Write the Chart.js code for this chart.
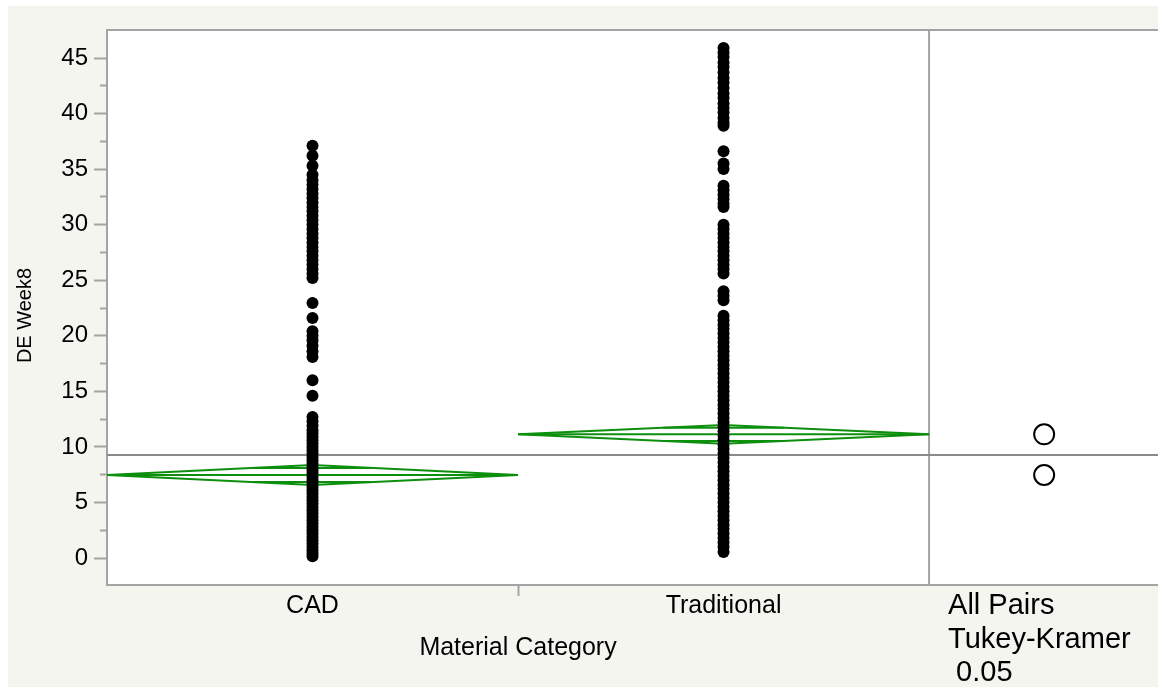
<!DOCTYPE html>
<html>
<head>
<meta charset="utf-8">
<script src="https://cdn.jsdelivr.net/npm/chart.js@4/dist/chart.umd.min.js"></script>
<style>
  html, body { margin: 0; padding: 0; background: #ffffff; }
  #wrap { position: absolute; left: 8px; top: 6px; width: 1150px; height: 681px; background: #f5f5f0; }
  canvas { display: block; }
</style>
</head>
<body>
<div id="wrap"><canvas id="c" width="1150" height="681"></canvas></div>
<script>
// ---------------- data ----------------
const categories = ['CAD', 'Traditional'];

const cadValues = [
  0.15, 0.4, 0.7, 1.0, 1.3, 1.6, 1.9, 2.2, 2.5, 2.8, 3.1, 3.4, 3.7, 4.0, 4.3, 4.6, 4.9,
  5.2, 5.5, 5.8, 6.1, 6.4, 6.7, 7.0, 7.3, 7.6, 7.9, 8.2, 8.5, 8.8, 9.1, 9.4, 9.7, 10.0,
  10.3, 10.6, 10.9, 11.2, 11.5, 11.9, 12.3, 12.7,
  14.6, 16.0,
  18.1, 18.6, 19.1, 19.6, 20.0, 20.4, 21.6, 22.95,
  25.2, 25.6, 26.0, 26.4, 26.8, 27.2, 27.6, 28.0, 28.4, 28.8, 29.2, 29.6, 30.0, 30.4,
  30.8, 31.2, 31.6, 32.0, 32.4, 32.8, 33.2, 33.6, 34.0, 34.5, 35.3, 36.2, 37.1
];

const tradValues = [
  0.55, 1.0, 1.4, 1.8, 2.2, 2.6, 3.0, 3.4, 3.8, 4.2, 4.6, 5.0, 5.4, 5.8, 6.2, 6.6, 7.0,
  7.4, 7.8, 8.2, 8.6, 9.0, 9.4, 9.8, 10.2, 10.6, 11.0, 11.4, 11.8, 12.2, 12.6, 13.0, 13.4,
  13.8, 14.2, 14.6, 15.0, 15.4, 15.8, 16.2, 16.6, 17.0, 17.4, 17.8, 18.2, 18.6, 19.0, 19.4,
  19.8, 20.2, 20.6, 21.0, 21.4, 21.8,
  23.2, 23.6, 24.0,
  25.6, 26.0, 26.4, 26.8, 27.2, 27.6, 28.0, 28.4, 28.8, 29.2, 29.6, 30.0,
  31.6, 31.9, 32.3, 32.7, 33.1, 33.5,
  35.0, 35.5, 36.6,
  38.9, 39.2, 39.6, 40.1, 40.5, 40.9, 41.4, 41.8, 42.3, 42.8, 43.2, 43.7, 44.2, 44.6,
  45.1, 45.5, 45.9
];

const groupMeans   = [7.47, 11.13];
const ciUpper      = [8.37, 11.98];
const ciLower      = [6.57, 10.28];
const overlapUpper = [8.11, 11.73];
const overlapLower = [6.83, 10.53];
const grandMean = 9.27;

const yTickValues = [0, 2.5, 5, 7.5, 10, 12.5, 15, 17.5, 20, 22.5, 25, 27.5, 30, 32.5, 35, 37.5, 40, 42.5, 45];
const yMin = -2.43, yMax = 47.52;
const xMin = 0, xMax = 2.557;
const xTickValues = [0.5, 1, 1.5];
const testLabelLines = ['All Pairs', 'Tukey-Kramer', ' 0.05'];
const yTitle = 'DE Week8';
const xTitle = 'Material Category';

// ---------------- styles ----------------
const GREEN = '#0c8f0c';
const AXIS = '#a3a3a3';
const FONT = "'Liberation Sans', Arial, Helvetica, sans-serif";
const circleX = 2.28;
Chart.defaults.font.family = FONT;
Chart.defaults.color = '#000000';

// ---------------- datasets ----------------
const datasets = [];
const pointSets = [cadValues, tradValues];
pointSets.forEach((vals, i) => {
  datasets.push({
    label: categories[i],
    data: vals.map(v => ({ x: i + 0.5, y: v })),
    pointRadius: 6, pointHoverRadius: 6,
    pointBackgroundColor: '#000000', pointBorderColor: '#000000', pointBorderWidth: 0,
    showLine: false, order: 0
  });
});
// comparison circles
datasets.push({
  label: 'circles',
  data: groupMeans.map(m => ({ x: circleX, y: m })),
  pointRadius: 10, pointBackgroundColor: 'rgba(0,0,0,0)', pointBorderColor: '#000000',
  pointBorderWidth: 2, showLine: false, order: 0
});
// means diamonds
categories.forEach((c, i) => {
  const lineStyle = { borderColor: GREEN, borderWidth: 2, pointRadius: 0, showLine: true, fill: false, order: 1, tension: 0 };
  datasets.push(Object.assign({ label: c + ' diamond', data: [
    { x: i, y: groupMeans[i] }, { x: i + 0.5, y: ciUpper[i] }, { x: i + 1, y: groupMeans[i] },
    { x: i + 0.5, y: ciLower[i] }, { x: i, y: groupMeans[i] }
  ] }, lineStyle));
  datasets.push(Object.assign({ label: c + ' mean', data: [
    { x: i, y: groupMeans[i] }, { x: i + 1, y: groupMeans[i] }
  ] }, lineStyle));
  const halfU = 0.5 * (1 - (overlapUpper[i] - groupMeans[i]) / (ciUpper[i] - groupMeans[i]));
  const halfL = 0.5 * (1 - (groupMeans[i] - overlapLower[i]) / (groupMeans[i] - ciLower[i]));
  datasets.push(Object.assign({ label: c + ' overlap hi', data: [
    { x: i + 0.5 - halfU, y: overlapUpper[i] }, { x: i + 0.5 + halfU, y: overlapUpper[i] }
  ] }, lineStyle));
  datasets.push(Object.assign({ label: c + ' overlap lo', data: [
    { x: i + 0.5 - halfL, y: overlapLower[i] }, { x: i + 0.5 + halfL, y: overlapLower[i] }
  ] }, lineStyle));
});
// grand mean line
datasets.push({
  label: 'grand mean', data: [{ x: xMin, y: grandMean }, { x: xMax, y: grandMean }],
  borderColor: '#8a8a8a', borderWidth: 2, pointRadius: 0, showLine: true, order: 2
});
// separator between plot and comparison-circle panel
datasets.push({
  label: 'separator', data: [{ x: categories.length, y: yMin }, { x: categories.length, y: yMax }],
  borderColor: AXIS, borderWidth: 2, pointRadius: 0, showLine: true, order: 3
});

// ---------------- plugins ----------------
const framePlugin = {
  id: 'frame',
  beforeDraw(chart) {
    const { ctx, chartArea: a } = chart;
    ctx.save();
    ctx.fillStyle = '#ffffff';
    ctx.fillRect(a.left, a.top, a.right - a.left, a.bottom - a.top);
    ctx.restore();
  },
  afterDraw(chart) {
    const { ctx, chartArea: a, scales } = chart;
    ctx.save();
    ctx.strokeStyle = AXIS; ctx.lineWidth = 2;
    ctx.beginPath(); ctx.moveTo(a.left - 1, a.top); ctx.lineTo(a.right, a.top); ctx.stroke();
    ctx.fillStyle = '#000000';
    // x-axis title, centred under the category region
    ctx.font = "25px " + FONT;
    ctx.textAlign = 'center'; ctx.textBaseline = 'middle';
    ctx.fillText(xTitle, scales.x.getPixelForValue(categories.length / 2), a.bottom + 63);
    // y-axis title
    ctx.save();
    ctx.translate(17, (a.top + a.bottom) / 2 + 8);
    ctx.rotate(-Math.PI / 2);
    ctx.font = "20px " + FONT;
    ctx.fillText(yTitle, 0, 0);
    ctx.restore();
    // test label under the comparison circles panel
    ctx.font = "29px " + FONT;
    ctx.textAlign = 'left';
    const x0 = scales.x.getPixelForValue(categories.length) + 19;
    testLabelLines.forEach((t, k) => ctx.fillText(t, x0, a.bottom + 21 + k * 33.5));
    ctx.restore();
  }
};

new Chart(document.getElementById('c'), {
  type: 'scatter',
  data: { datasets },
  plugins: [framePlugin],
  options: {
    responsive: false, animation: false,
    layout: { autoPadding: false, padding: { top: 24, left: 0, right: 0, bottom: 0 } },
    plugins: { legend: { display: false }, tooltip: { enabled: false } },
    scales: {
      x: {
        type: 'linear', min: xMin, max: xMax,
        afterBuildTicks: s => { s.ticks = xTickValues.map(v => ({ value: v })); },
        afterFit: s => { s.height = 102; s.paddingLeft = 0; s.paddingRight = 0; },
        ticks: {
          autoSkip: false, maxRotation: 0, padding: -5,
          font: { size: 25 },
          callback: v => (v % 1 === 0.5 ? categories[Math.floor(v)] : '')
        },
        grid: {
          drawOnChartArea: false, tickLength: 11, tickWidth: 2,
          tickColor: ctx => (ctx.tick && ctx.tick.value % 1 === 0 ? AXIS : 'rgba(0,0,0,0)')
        },
        border: { color: AXIS, width: 2 }
      },
      y: {
        type: 'linear', min: yMin, max: yMax,
        afterBuildTicks: s => { s.ticks = yTickValues.map(v => ({ value: v })); },
        afterFit: s => { s.width = 99; s.paddingTop = 0; s.paddingBottom = 0; },
        ticks: {
          autoSkip: false, padding: 6, font: { size: 24 },
          callback: v => (v % 5 === 0 ? String(v) : '')
        },
        grid: {
          drawOnChartArea: false, tickLength: 13, tickWidth: 2, tickColor: AXIS,
          tickBorderDash: ctx => (ctx.tick && ctx.tick.value % 5 === 0 ? [] : [0, 6, 7])
        },
        border: { color: AXIS, width: 2 }
      }
    }
  }
});
</script>
</body>
</html>
